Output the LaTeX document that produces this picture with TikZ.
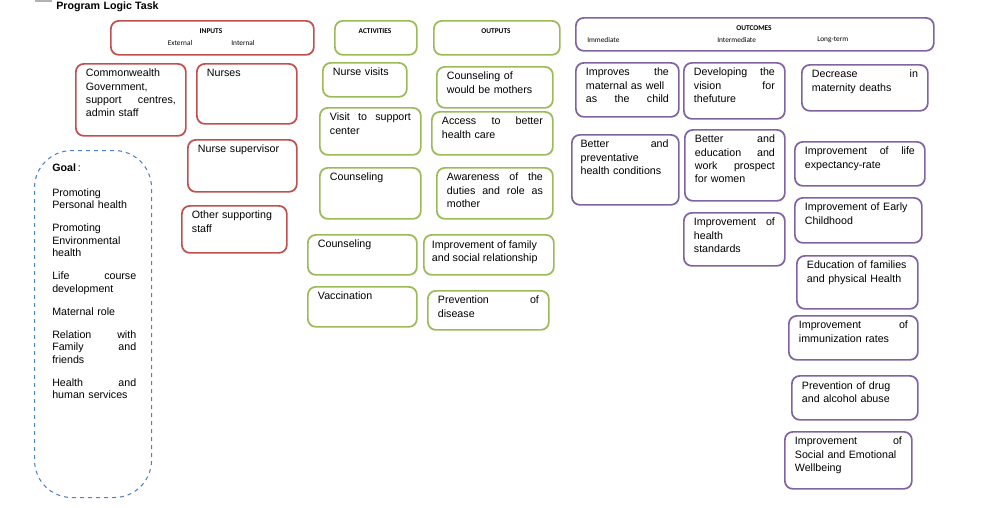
\documentclass[tikz,border=0pt]{standalone}
\usepackage{fontspec}
\setmainfont{Liberation Sans}
\newfontfamily\hdr{Carlito}
\definecolor{rd}{HTML}{C0504D}
\definecolor{gr}{HTML}{9BBB59}
\definecolor{pu}{HTML}{8064A2}
\definecolor{bl}{HTML}{4F81BD}
\newcommand\bx[7]{%
  \node[#2, anchor=north west, minimum width={(#5-#3)*0.75pt}, minimum height={(#6-#4)*0.75pt}] (#1) at (#3,#4) {};
  \node[txt, anchor=north west, text width={(#5-#3-20)*0.75pt}] (#1t) at ([shift={(8pt,-4.5pt)}]#1.north west) {#7};}
\begin{document}
\begin{tikzpicture}[x=0.75pt,y=-0.75pt,
  base/.style={rounded corners=6pt, line width=1.3pt, inner sep=0pt},
  rbox/.style={base, draw=rd},
  gbox/.style={base, draw=gr},
  pbox/.style={base, draw=pu},
  txt/.style={inner sep=0pt, align=left, font=\fontsize{8}{9.8}\selectfont},
  hd/.style={font=\hdr\bfseries\fontsize{5.5}{6}\selectfont, inner sep=0pt},
  sub/.style={font=\hdr\fontsize{5.5}{6}\selectfont, inner sep=0pt}]
\useasboundingbox (0,0) rectangle (997,507);
\fill[gray!60] (35,0) rectangle (52,2);
\node[anchor=west, font=\bfseries\fontsize{8}{9}\selectfont, inner sep=0pt] (title) at (56,7) {Program\,\,Logic Task};
% headers
\node[rbox, anchor=north west, minimum width={203*0.75pt}, minimum height={34*0.75pt}] (inp) at (110,20) {};
\node[hd] (inpl) at (211,31) {INPUTS};
\node[sub] (ext) at (180,43) {External};
\node[sub] (int) at (243,43) {Internal};
\node[gbox, anchor=north west, minimum width={82*0.75pt}, minimum height={34*0.75pt}] (act) at (334,20) {};
\node[hd] (actl) at (375,31) {ACTIVITIES};
\node[gbox, anchor=north west, minimum width={126*0.75pt}, minimum height={34*0.75pt}] (out) at (433,20) {};
\node[hd] (outl) at (496,31) {OUTPUTS};
\node[pbox, anchor=north west, minimum width={358*0.75pt}, minimum height={33*0.75pt}] (oc) at (575,17) {};
\node[hd] (ocl) at (754,28) {OUTCOMES};
\node[sub, anchor=west] (imm) at (587,40) {Immediate};
\node[sub, anchor=west] (intm) at (717,40) {Intermediate};
\node[sub, anchor=west] (lt) at (817,40) {Long-term};
% inputs
\bx{cg}{rbox}{75}{63}{185}{135}{Commonwealth\\Government,\\support\hfill centres,\\admin staff}
\bx{nu}{rbox}{196}{63}{296}{123}{Nurses}
\bx{ns}{rbox}{187}{139}{296}{191}{Nurse supervisor}
\bx{os}{rbox}{181}{205}{286}{252}{Other supporting\\staff}
% goal
\node[draw=bl, dashed, line width=0.8pt, rounded corners=28pt, anchor=north west, minimum width={117*0.75pt}, minimum height={347*0.75pt}] (goal) at (34,150) {};
\node[txt, anchor=north west, text width={84*0.75pt}, font=\fontsize{8}{9.3}\selectfont] (goalt) at (52,164) {%
\textbf{Goal}\,:\\[9pt]
Promoting\\Personal health\\[8pt]
Promoting\\Environmental\\health\\[8pt]
Life\hfill course\\development\\[8pt]
Maternal role\\[8pt]
Relation\hfill with\\Family\hfill and\\friends\\[8pt]
Health\hfill and\\human services};
% activities
\bx{a1}{gbox}{322}{62}{406}{96}{Nurse visits}
\bx{a2}{gbox}{319}{107}{420}{154}{Visit\hfill to\hfill support\\center}
\bx{a3}{gbox}{319}{167}{420}{218}{Counseling}
\bx{a4}{gbox}{307}{234}{416}{274}{Counseling}
\bx{a5}{gbox}{307}{286}{416}{326}{Vaccination}
% outputs
\bx{o1}{gbox}{436}{66}{552}{107}{Counseling of\\would be mothers}
\bx{o2}{gbox}{431}{111}{552}{154}{Access\hfill to\hfill better\\health care}
\bx{o3}{gbox}{436}{167}{552}{218}{Awareness\hfill of\hfill the\\duties\hfill and\hfill role\hfill as\\mother}
\node[gbox, anchor=north west, minimum width={130*0.75pt}, minimum height={40*0.75pt}] (o4) at (423,234) {};
\node[txt, anchor=north west] (o4t) at ([shift={(6.5pt,-4.5pt)}]o4.north west) {Improvement of family\\and social relationship};
\bx{o5}{gbox}{427}{290}{548}{329}{Prevention\hfill of\\disease}
% outcomes
\bx{p1}{pbox}{575}{62}{678}{116}{Improves\hfill the\\maternal as well\\as\hfill the\hfill child}
\bx{p2}{pbox}{683}{62}{784}{118}{Developing\hfill the\\vision\hfill for\\thefuture}
\bx{p3}{pbox}{801}{64}{927}{110}{Decrease\hfill in\\maternity deaths}
\node[pbox, anchor=north west, minimum width={107*0.75pt}, minimum height={70*0.75pt}] (p4) at (571,134) {};
\node[txt, anchor=north west, text width={88*0.75pt}] (p4t) at ([shift={(7pt,-4.5pt)}]p4.north west) {Better\hfill and\\preventative\\health conditions};
\bx{p5}{pbox}{684}{129}{784}{200}{Better\hfill and\\education\hfill and\\work\hfill prospect\\for women}
\bx{p6}{pbox}{683}{212}{784}{265}{Improvement\hfill of\\health\\standards}
\bx{p7}{pbox}{794}{141}{924}{185}{Improvement\hfill of\hfill life\\expectancy-rate}
\bx{p8}{pbox}{794}{197}{921}{242}{Improvement of Early\\Childhood}
\bx{p9}{pbox}{796}{255}{917}{308}{Education of families\\and physical Health}
\bx{p10}{pbox}{788}{315}{917}{359}{Improvement\hfill of\\immunization rates}
\bx{p11}{pbox}{791}{375}{917}{419}{Prevention of drug\\and alcohol abuse}
\bx{p12}{pbox}{784}{431}{911}{488}{Improvement\hfill of\\Social and Emotional\\Wellbeing}
\end{tikzpicture}
\end{document}
